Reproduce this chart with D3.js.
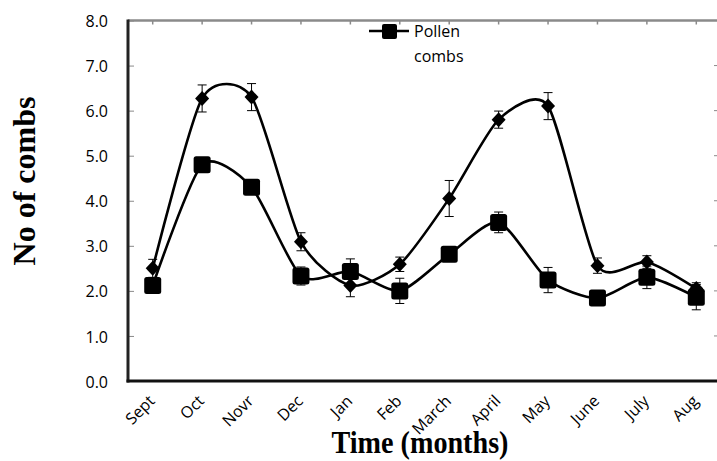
<!DOCTYPE html>
<html>
<head>
<meta charset="utf-8">
<script src="https://cdn.jsdelivr.net/npm/d3@7"></script>
<style>
  body { margin: 0; background: #fff; }
  .tick text { font-family: "Open Sans", sans-serif; fill: #000; }
</style>
</head>
<body>
<div class="chart"></div>
<script>
const width = 717;
const height = 461;

// data
const months = ["Sept", "Oct", "Novr", "Dec", "Jan", "Feb", "March", "April", "May", "June", "July", "Aug"];
const diamondCombs = [2.5, 6.27, 6.3, 3.09, 2.12, 2.59, 4.05, 5.8, 6.1, 2.56, 2.64, 2.05];
const diamondErr = [0.2, 0.3, 0.3, 0.2, 0.25, 0.16, 0.4, 0.19, 0.3, 0.17, 0.14, 0.13];
const pollenCombs = [2.12, 4.8, 4.3, 2.33, 2.43, 2.0, 2.81, 3.52, 2.24, 1.84, 2.3, 1.86];
const pollenErr = [0.08, 0.12, 0.08, 0.2, 0.28, 0.28, 0.08, 0.23, 0.28, 0.08, 0.25, 0.28];
const yTicks = [0, 1, 2, 3, 4, 5, 6, 7, 8];

const plotLeft = 128, plotRight = 721, plotTop = 20.5, plotBottom = 381;

const svg = d3.select(".chart")
   .append("svg")
   .attr("width", width)
   .attr("height", height);

const x = d3.scaleBand().domain(months).range([plotLeft, plotRight]);
const cx = (d) => x(d) + x.bandwidth() / 2;
const y = d3.scaleLinear().domain([0, 8]).range([plotBottom, plotTop]);

// top border + ticks
svg.append("line")
   .attr("x1", plotLeft).attr("x2", plotRight)
   .attr("y1", plotTop).attr("y2", plotTop)
   .attr("stroke", "#8a8a8a").attr("stroke-width", 2.5);

svg.append("g")
   .selectAll("line")
   .data(months)
   .enter()
   .append("line")
   .attr("x1", cx).attr("x2", cx)
   .attr("y1", plotTop).attr("y2", plotTop + 4)
   .attr("stroke", "#8a8a8a").attr("stroke-width", 1.5);

// right ticks
svg.append("g")
   .selectAll("line")
   .data(yTicks)
   .enter()
   .append("line")
   .attr("x1", 714).attr("x2", plotRight)
   .attr("y1", (d) => y(d)).attr("y2", (d) => y(d))
   .attr("stroke", "#8a8a8a").attr("stroke-width", 1);

// y axis
const yAxis = d3.axisLeft(y).tickValues(yTicks).tickFormat(d3.format(".1f")).tickSize(0).tickPadding(20);
const gy = svg.append("g")
   .attr("transform", `translate(${plotLeft}, 0)`)
   .call(yAxis);
gy.select(".domain").remove();
gy.selectAll(".tick text").attr("font-size", 16).attr("dy", "0.38em");
gy.selectAll(".tick")
   .append("line")
   .attr("x1", 1).attr("x2", 6)
   .attr("stroke", "#8a8a8a");

svg.append("line")
   .attr("x1", plotLeft).attr("x2", plotLeft)
   .attr("y1", plotTop - 1).attr("y2", plotBottom + 1.5)
   .attr("stroke", "#222").attr("stroke-width", 3);

// x axis
const xAxis = d3.axisBottom(x).tickSize(0).tickPadding(0);
const gx = svg.append("g")
   .attr("transform", `translate(0, ${plotBottom})`)
   .call(xAxis);
gx.select(".domain").remove();
gx.selectAll(".tick text")
   .attr("font-size", 16)
   .attr("text-anchor", "end")
   .attr("dy", 0)
   .attr("transform", "translate(3, 21) rotate(-45)");

svg.append("line")
   .attr("x1", plotLeft - 1.5).attr("x2", plotRight)
   .attr("y1", plotBottom).attr("y2", plotBottom)
   .attr("stroke", "#111").attr("stroke-width", 3);

// series
const line = d3.line()
   .x((d, i) => cx(months[i]))
   .y((d) => y(d))
   .curve(d3.curveCardinal.tension(0.3));

[diamondCombs, pollenCombs].forEach((s) => {
   svg.append("path")
      .datum(s)
      .attr("d", line)
      .attr("fill", "none")
      .attr("stroke", "#000")
      .attr("stroke-width", 2.6);
});

function errorBars(values, errs) {
   const g = svg.append("g").attr("stroke", "#000").attr("stroke-width", 1);
   values.forEach((v, i) => {
      const px = cx(months[i]);
      g.append("line").attr("x1", px).attr("x2", px).attr("y1", y(v + errs[i])).attr("y2", y(v - errs[i]));
      g.append("line").attr("x1", px - 4.5).attr("x2", px + 4.5).attr("y1", y(v + errs[i])).attr("y2", y(v + errs[i]));
      g.append("line").attr("x1", px - 4.5).attr("x2", px + 4.5).attr("y1", y(v - errs[i])).attr("y2", y(v - errs[i]));
   });
}
errorBars(diamondCombs, diamondErr);
errorBars(pollenCombs, pollenErr);

svg.append("g")
   .selectAll("path")
   .data(diamondCombs)
   .enter()
   .append("path")
   .attr("d", (d, i) => {
      const px = cx(months[i]), py = y(d);
      return `M${px},${py - 7.5}L${px + 7},${py}L${px},${py + 7.5}L${px - 7},${py}Z`;
   })
   .attr("fill", "#000");

svg.append("g")
   .selectAll("rect")
   .data(pollenCombs)
   .enter()
   .append("rect")
   .attr("x", (d, i) => cx(months[i]) - 8.5)
   .attr("y", (d) => y(d) - 8.5)
   .attr("width", 17)
   .attr("height", 17)
   .attr("rx", 2.5)
   .attr("fill", "#000");

// legend
const legend = svg.append("g");
legend.append("line")
   .attr("x1", 369).attr("x2", 409).attr("y1", 31).attr("y2", 31)
   .attr("stroke", "#000").attr("stroke-width", 2.6);
legend.append("rect")
   .attr("x", 382).attr("y", 24).attr("width", 15).attr("height", 15).attr("rx", 2)
   .attr("fill", "#000");
legend.append("text")
   .attr("x", 414).attr("y", 37)
   .attr("font-family", "Open Sans, sans-serif").attr("font-size", 16)
   .text("Pollen");
legend.append("text")
   .attr("x", 414).attr("y", 62)
   .attr("font-family", "Open Sans, sans-serif").attr("font-size", 16)
   .text("combs");

// axis titles
svg.append("text")
   .attr("transform", "translate(420, 453) scale(0.88, 1)")
   .attr("text-anchor", "middle")
   .attr("font-family", "Liberation Serif, serif")
   .attr("font-weight", "bold")
   .attr("font-size", 32)
   .text("Time (months)");

svg.append("text")
   .attr("transform", "translate(35, 181) rotate(-90)")
   .attr("text-anchor", "middle")
   .attr("font-family", "Liberation Serif, serif")
   .attr("font-weight", "bold")
   .attr("font-size", 32)
   .text("No of combs");
</script>
</body>
</html>
